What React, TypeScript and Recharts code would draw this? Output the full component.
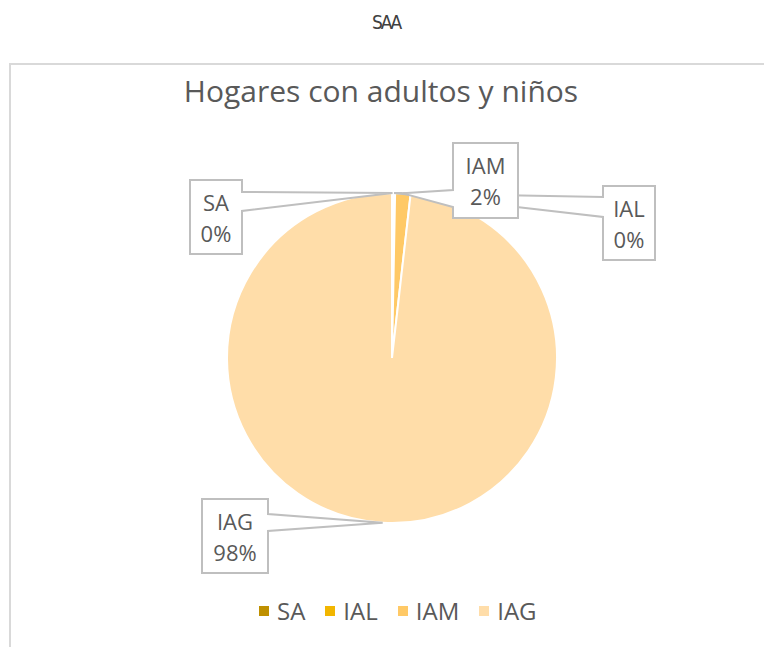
import { PieChart, Pie, Cell, Legend } from 'recharts';

const categories = ['SA', 'IAL', 'IAM', 'IAG'];
const shares = [0.1, 0.2, 1.5, 98.2];
const sliceColors = ['#BF9000', '#F2B600', '#FFC966', '#FFDDA9'];

const data = categories.map((name, i) => ({ name, value: shares[i] }));

// callout box placement relative to the pie centre (Excel-like data callouts)
const callouts: Record<string, { dx: number; dy: number; w: number; h: number; side: 'left' | 'right'; a0: number; a1: number }> = {
  SA: { dx: -202, dy: -178, w: 52, h: 74, side: 'right', a0: 12, a1: 31 },
  IAL: { dx: 211, dy: -172, w: 52, h: 74, side: 'left', a0: 11, a1: 31 },
  IAM: { dx: 61, dy: -215, w: 65, h: 75, side: 'left', a0: 47, a1: 64 },
  IAG: { dx: -190, dy: 141, w: 66, h: 74, side: 'right', a0: 15, a1: 32 },
};

const CX = 392;
const CY = 358;
const R = 165;
const RADIAN = Math.PI / 180;
const FONT = "'Open Sans', 'Noto Sans', sans-serif";

function renderCallout(props: any) {
  const { cx, cy, midAngle, outerRadius, percent, name } = props;
  const c = callouts[name];
  if (!c) return null;
  const ax = cx + outerRadius * Math.cos(-midAngle * RADIAN);
  const ay = cy + outerRadius * Math.sin(-midAngle * RADIAN);
  const x = cx + c.dx;
  const y = cy + c.dy;
  let d: string;
  if (c.side === 'right') {
    const r = x + c.w;
    d = `M${x},${y} L${r},${y} L${r},${y + c.a0} L${ax},${ay} L${r},${y + c.a1} L${r},${y + c.h} L${x},${y + c.h} Z`;
  } else {
    d = `M${x},${y} L${x + c.w},${y} L${x + c.w},${y + c.h} L${x},${y + c.h} L${x},${y + c.a1} L${ax},${ay} L${x},${y + c.a0} Z`;
  }
  const pct = Math.round(percent * 100) + '%';
  return (
    <g>
      <path d={d} fill="#FFFFFF" stroke="#BFBFBF" strokeWidth={2} strokeLinejoin="miter" />
      <text x={x + c.w / 2} y={y + 22} textAnchor="middle" dominantBaseline="central" fill="#595959" fontSize={22} fontFamily={FONT}>
        {name}
      </text>
      <text x={x + c.w / 2} y={y + 53} textAnchor="middle" dominantBaseline="central" fill="#595959" fontSize={22} fontFamily={FONT}>
        {pct}
      </text>
    </g>
  );
}

function LegendRow() {
  return (
    <div style={{ display: 'flex', alignItems: 'center', fontFamily: FONT, fontSize: 24, color: '#595959', lineHeight: '28px' }}>
      {categories.map((name, i) => (
        <div key={name} style={{ display: 'flex', alignItems: 'center', marginRight: 20 }}>
          <span style={{ display: 'inline-block', width: 10, height: 10, background: sliceColors[i], marginRight: 8 }} />
          <span>{name}</span>
        </div>
      ))}
    </div>
  );
}

export default function App() {
  return (
    <div style={{ position: 'absolute', left: 0, top: 0, width: 764, height: 647, background: '#FFFFFF', overflow: 'hidden' }}>
      <div
        style={{
          position: 'absolute', left: 372, top: 11,
          fontFamily: "'Liberation Sans Narrow', 'DejaVu Sans Condensed', sans-serif", fontSize: 19, color: '#404040', letterSpacing: -2.5,
        }}
      >
        SAA
      </div>
      <div style={{ position: 'absolute', left: 9, top: 63, width: 760, height: 600, borderLeft: '2px solid #D9D9D9', borderTop: '2px solid #D9D9D9' }} />
      <div
        style={{
          position: 'absolute', left: 0, width: 762, top: 70, textAlign: 'center',
          fontFamily: FONT, fontSize: 30, color: '#595959', lineHeight: '42px',
        }}
      >
        Hogares con adultos y niños
      </div>
      <div style={{ position: 'absolute', left: 0, top: 0 }}>
        <PieChart width={764} height={647} margin={{ top: 0, right: 0, bottom: 0, left: 0 }}>
          <Pie
            data={data}
            dataKey="value"
            nameKey="name"
            cx={CX}
            cy={CY}
            outerRadius={R}
            startAngle={90}
            endAngle={-270}
            stroke="#FFFFFF"
            strokeWidth={2}
            label={renderCallout}
            labelLine={false}
            isAnimationActive={false}
          >
            {data.map((d, i) => (
              <Cell key={d.name} fill={sliceColors[i]} />
            ))}
          </Pie>
          <Legend content={LegendRow} wrapperStyle={{ left: 259, top: 597, width: 'auto', bottom: 'auto' }} />
        </PieChart>
      </div>
    </div>
  );
}
